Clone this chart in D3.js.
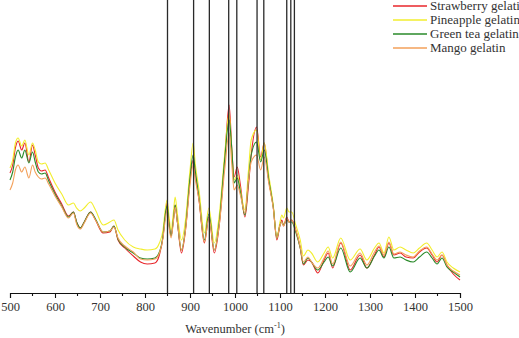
<!DOCTYPE html>
<html><head><meta charset="utf-8">
<script src="https://cdn.jsdelivr.net/npm/d3@7"></script>
<style>html,body{margin:0;padding:0;background:#fff;}svg{display:block;}
svg text{font-family:"Liberation Serif","Times New Roman",serif;}</style>
</head><body>
<svg id="chart" width="519" height="338"></svg>
<script>
const wavenumbers = [500,506,512,518,526,533,542,550,556,563,570,578,586,600,615,630,641,648,656,665,679,690,707,722,731,740,755,774,790,805,822,832,840,845,849,853,858,863,867,872,881,890,900,907,912,920,932,942,954,965,977,987,993,998,1005,1012,1022,1030,1036,1048,1057,1065,1075,1085,1093,1100,1104,1108,1115,1120,1126,1135,1145,1152,1162,1170,1184,1198,1207,1217,1235,1256,1278,1293,1310,1320,1331,1342,1353,1367,1380,1396,1410,1426,1438,1449,1460,1471,1485,1500];
const strawberry = [120,128,145,152,143,150,131,148,138,125,122,123,115,101,89,77,81,71,65,71,81,73,60,61,67,53,45,37,31,29,30,38,56,78,90,73,57,73,88,71,40,63,113,133,118,93,50,76,40,68,133,188,143,116,126,108,76,108,138,166,136,150,113,86,53,68,73,67,76,71,73,63,45,28,33,31,20,33,40,25,50,23,38,25,38,46,36,50,38,40,36,35,41,45,38,31,38,28,19,13];
const pineapple = [125,133,150,155,147,153,138,150,143,131,129,130,123,110,99,88,90,85,82,85,91,83,68,71,73,63,53,46,44,43,44,50,63,83,93,78,63,80,96,79,53,73,123,150,128,103,60,85,50,78,138,180,138,113,118,103,83,123,153,163,133,150,118,88,56,71,78,75,85,81,81,68,53,37,43,40,31,40,46,35,55,33,44,33,45,50,40,56,43,46,43,40,45,50,43,36,41,31,25,21];
const greentea = [113,121,136,143,135,143,130,141,131,121,119,120,112,99,87,76,81,71,65,71,81,74,61,62,67,54,46,40,35,34,35,41,57,78,87,71,57,73,88,71,43,65,115,138,121,95,53,79,43,71,133,173,143,110,115,101,78,113,138,151,131,143,113,86,55,68,71,68,73,71,71,61,45,29,35,31,23,31,36,27,45,21,35,25,37,43,35,46,35,36,33,31,36,41,35,29,35,26,21,16];
const mango = [103,110,123,128,121,126,115,128,121,116,114,115,109,97,86,75,80,69,64,70,80,73,61,62,66,55,47,41,34,33,34,40,55,73,83,67,55,71,86,71,43,63,108,128,113,93,51,75,43,68,123,160,128,103,108,98,80,113,131,138,123,136,110,85,55,68,71,67,75,71,73,63,46,31,36,31,25,35,42,29,51,27,40,28,41,47,38,51,39,41,38,36,42,46,39,33,38,28,22,18];
const seriesNames = ["Strawberry gelatin","Pineapple gelatin","Green tea gelatin","Mango gelatin"];
const seriesColors = ["#e8262b","#f2ee2e","#2a8a2a","#f3a05a"];
const markerLines = [850,908,943,986,1004,1049,1064,1115,1124,1132];
const xTicks = [500,600,700,800,900,1000,1100,1200,1300,1400,1500];

const svg = d3.select("#chart");
const x = d3.scaleLinear().domain([500,1500]).range([10,460]);
const y = d3.scaleLinear().domain([0,293]).range([293,0]);
const allSeries = [strawberry,pineapple,greentea,mango];

const line = d3.line().x((d,i)=>x(wavenumbers[i])).y(d=>y(d)).curve(d3.curveMonotoneX);
svg.append("g").selectAll("path").data(allSeries).join("path")
  .attr("d", d=>line(d)).attr("fill","none")
  .attr("stroke",(d,i)=>seriesColors[i]).attr("stroke-width",1.1)
  .attr("stroke-linejoin","round");

svg.append("g").selectAll("line").data(markerLines).join("line")
  .attr("x1",d=>x(d)).attr("x2",d=>x(d)).attr("y1",0).attr("y2",y(0))
  .attr("stroke","#2a2a2a").attr("stroke-width",1.3);

const axis = d3.axisBottom(x).tickValues(xTicks).tickFormat(d3.format("d")).tickSize(5).tickPadding(4);
const gx = svg.append("g").attr("transform",`translate(0,${y(0)})`).call(axis);
gx.attr("font-family",null);
gx.select(".domain").attr("stroke","#111").attr("stroke-width",1.1);
gx.selectAll(".tick line").attr("stroke","#111").attr("stroke-width",1.1);
gx.selectAll(".tick text").attr("font-size",12.5).attr("fill","#333");
const minor = d3.range(550,1500,100);
gx.append("g").selectAll("line").data(minor).join("line")
  .attr("x1",d=>x(d)).attr("x2",d=>x(d)).attr("y1",0).attr("y2",3)
  .attr("stroke","#111").attr("stroke-width",1.1);

const title = svg.append("text").attr("x",x(1000)).attr("y",333).attr("text-anchor","middle")
  .attr("font-size",12.5).attr("fill","#333");
title.append("tspan").text("Wavenumber (cm");
title.append("tspan").text("-1").attr("dy",-5).attr("font-size",8);
title.append("tspan").text(")").attr("dy",5);

const leg = svg.append("g");
seriesNames.forEach((n,i)=>{
  const yy = 6 + i*14;
  leg.append("line").attr("x1",393).attr("x2",427).attr("y1",yy).attr("y2",yy)
    .attr("stroke",seriesColors[i]).attr("stroke-width",1.3);
  leg.append("text").attr("x",430).attr("y",yy+4).text(n)
    .attr("font-size",13).attr("fill","#333");
});
</script>
</body></html>
